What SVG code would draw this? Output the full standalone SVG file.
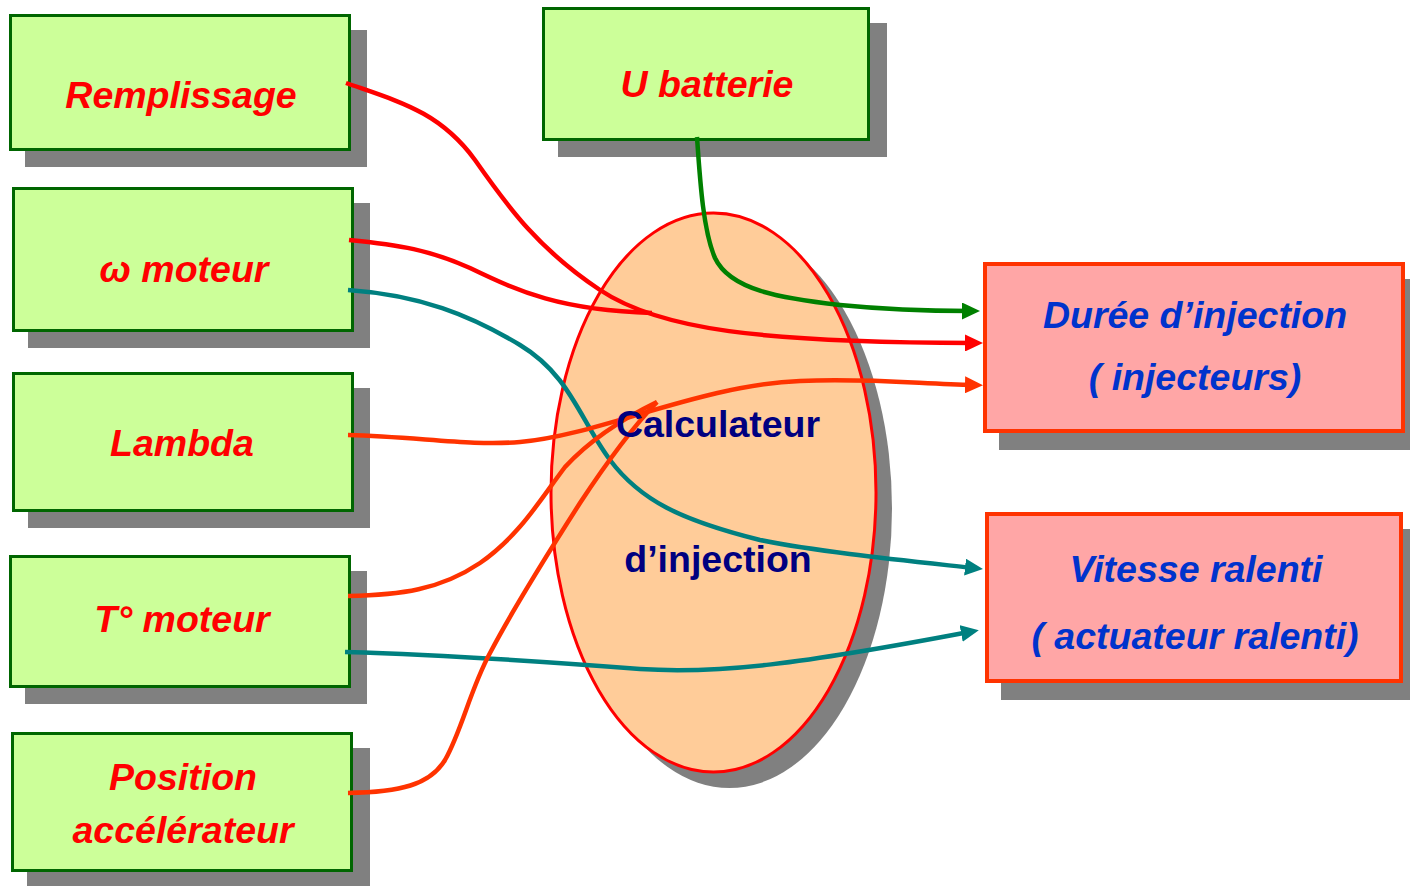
<svg xmlns="http://www.w3.org/2000/svg" width="1410" height="886" viewBox="0 0 1410 886">
  <style>
    .shadow { fill: #808080; }
    .in { fill: #CCFF99; stroke: #006600; stroke-width: 3; }
    .out { fill: #FFA6A6; stroke: #FF3300; stroke-width: 4; }
    .lbl { font-family: "Liberation Sans", Arial, sans-serif; font-size: 37.5px; font-weight: bold; text-anchor: middle; }
    .red { fill: #FF0000; font-style: italic; }
    .blue { fill: #0033CC; font-style: italic; }
    .navy { fill: #000080; }
    .wire { fill: none; stroke-width: 4.5; }
  </style>
  <defs>
    <marker id="ah-green" markerUnits="userSpaceOnUse" markerWidth="18" markerHeight="17" refX="8" refY="8.5" orient="auto">
      <path d="M0,0 L18,8.5 L0,17 z" fill="#008000"/>
    </marker>
    <marker id="ah-red" markerUnits="userSpaceOnUse" markerWidth="18" markerHeight="17" refX="8" refY="8.5" orient="auto">
      <path d="M0,0 L18,8.5 L0,17 z" fill="#FF0000"/>
    </marker>
    <marker id="ah-orange" markerUnits="userSpaceOnUse" markerWidth="18" markerHeight="17" refX="8" refY="8.5" orient="auto">
      <path d="M0,0 L18,8.5 L0,17 z" fill="#FF3300"/>
    </marker>
    <marker id="ah-teal" markerUnits="userSpaceOnUse" markerWidth="18" markerHeight="17" refX="8" refY="8.5" orient="auto">
      <path d="M0,0 L18,8.5 L0,17 z" fill="#008080"/>
    </marker>
  </defs>

  <rect width="1410" height="886" fill="#FFFFFF"/>

  <!-- central computer -->
  <g id="calculateur">
    <ellipse class="shadow" cx="729.5" cy="508.5" rx="162.5" ry="279.5"/>
    <ellipse cx="713.5" cy="492.5" rx="162.5" ry="279.5" fill="#FFCC99" stroke="#FF0000" stroke-width="3"/>
  </g>

  <!-- input boxes -->
  <g id="remplissage">
    <rect class="shadow" x="25" y="30" width="342" height="137"/>
    <rect class="in" x="10.5" y="15.5" width="339" height="134"/>
    <text class="lbl red" x="181" y="108">Remplissage</text>
  </g>
  <g id="omega-moteur">
    <rect class="shadow" x="28" y="203" width="342" height="145"/>
    <rect class="in" x="13.5" y="188.5" width="339" height="142"/>
    <text class="lbl red" x="184" y="282">ω moteur</text>
  </g>
  <g id="lambda">
    <rect class="shadow" x="28" y="388" width="342" height="140"/>
    <rect class="in" x="13.5" y="373.5" width="339" height="137"/>
    <text class="lbl red" x="182" y="456">Lambda</text>
  </g>
  <g id="t-moteur">
    <rect class="shadow" x="25" y="571" width="342" height="133"/>
    <rect class="in" x="10.5" y="556.5" width="339" height="130"/>
    <text class="lbl red" x="182" y="632">T° moteur</text>
  </g>
  <g id="position-accelerateur">
    <rect class="shadow" x="27" y="748" width="343" height="140"/>
    <rect class="in" x="12.5" y="733.5" width="339" height="137"/>
    <text class="lbl red" x="183" y="790">Position</text>
    <text class="lbl red" x="183" y="843">accélérateur</text>
  </g>
  <g id="u-batterie">
    <rect class="shadow" x="558" y="23" width="329" height="134"/>
    <rect class="in" x="543.5" y="8.5" width="325" height="131"/>
    <text class="lbl red" x="707" y="97">U batterie</text>
  </g>

  <!-- output boxes -->
  <g id="duree-injection">
    <rect class="shadow" x="999" y="279" width="422" height="171"/>
    <rect class="out" x="985" y="264" width="418" height="167"/>
    <text class="lbl blue" x="1195" y="328">Durée d’injection</text>
    <text class="lbl blue" x="1195" y="390">( injecteurs)</text>
  </g>
  <g id="vitesse-ralenti">
    <rect class="shadow" x="1001" y="529" width="414" height="171"/>
    <rect class="out" x="987" y="514" width="414" height="167"/>
    <text class="lbl blue" x="1196" y="582">Vitesse ralenti</text>
    <text class="lbl blue" x="1195" y="649">( actuateur ralenti)</text>
  </g>

  <!-- signal wires -->
  <g id="connectors">
    <path class="wire" stroke="#FF0000" marker-end="url(#ah-red)"
          d="M346,83 C400,102 440,112 475,160 C510,210 540,250 600,290 C660,330 760,342 973,343"/>
    <path class="wire" stroke="#FF0000"
          d="M349,240 C400,245 430,250 470,268 C520,292 560,310 652,313"/>
    <path class="wire" stroke="#008080" marker-end="url(#ah-teal)"
          d="M348,290 C420,295 470,315 520,345 C570,375 580,420 610,460 C640,500 680,520 760,540 C820,552 900,560 973,568"/>
    <path class="wire" stroke="#FF3300" marker-end="url(#ah-orange)"
          d="M348,435 C420,437 470,446 520,442 C600,435 700,385 800,381 C870,378 920,384 973,385"/>
    <path class="wire" stroke="#FF3300"
          d="M348,596 C400,595 440,590 480,563 C520,535 540,500 565,467 C590,440 620,420 657,402"/>
    <path class="wire" stroke="#008080" marker-end="url(#ah-teal)"
          d="M345,652 C450,655 550,662 640,669 C720,674 800,664 969,632"/>
    <path class="wire" stroke="#FF3300"
          d="M348,793 C400,792 430,785 445,760 C462,730 470,690 490,653 C515,605 550,550 580,503 C605,465 630,430 657,402"/>
    <path class="wire" stroke="#008000" marker-end="url(#ah-green)"
          d="M697,137 C700,180 703,230 715,258 C730,290 780,298 840,305 C900,311 940,311 970,311"/>
  </g>

  <!-- computer label -->
  <g id="calculateur-label">
    <text class="lbl navy" x="718" y="437">Calculateur</text>
    <text class="lbl navy" x="718" y="572">d’injection</text>
  </g>
</svg>
